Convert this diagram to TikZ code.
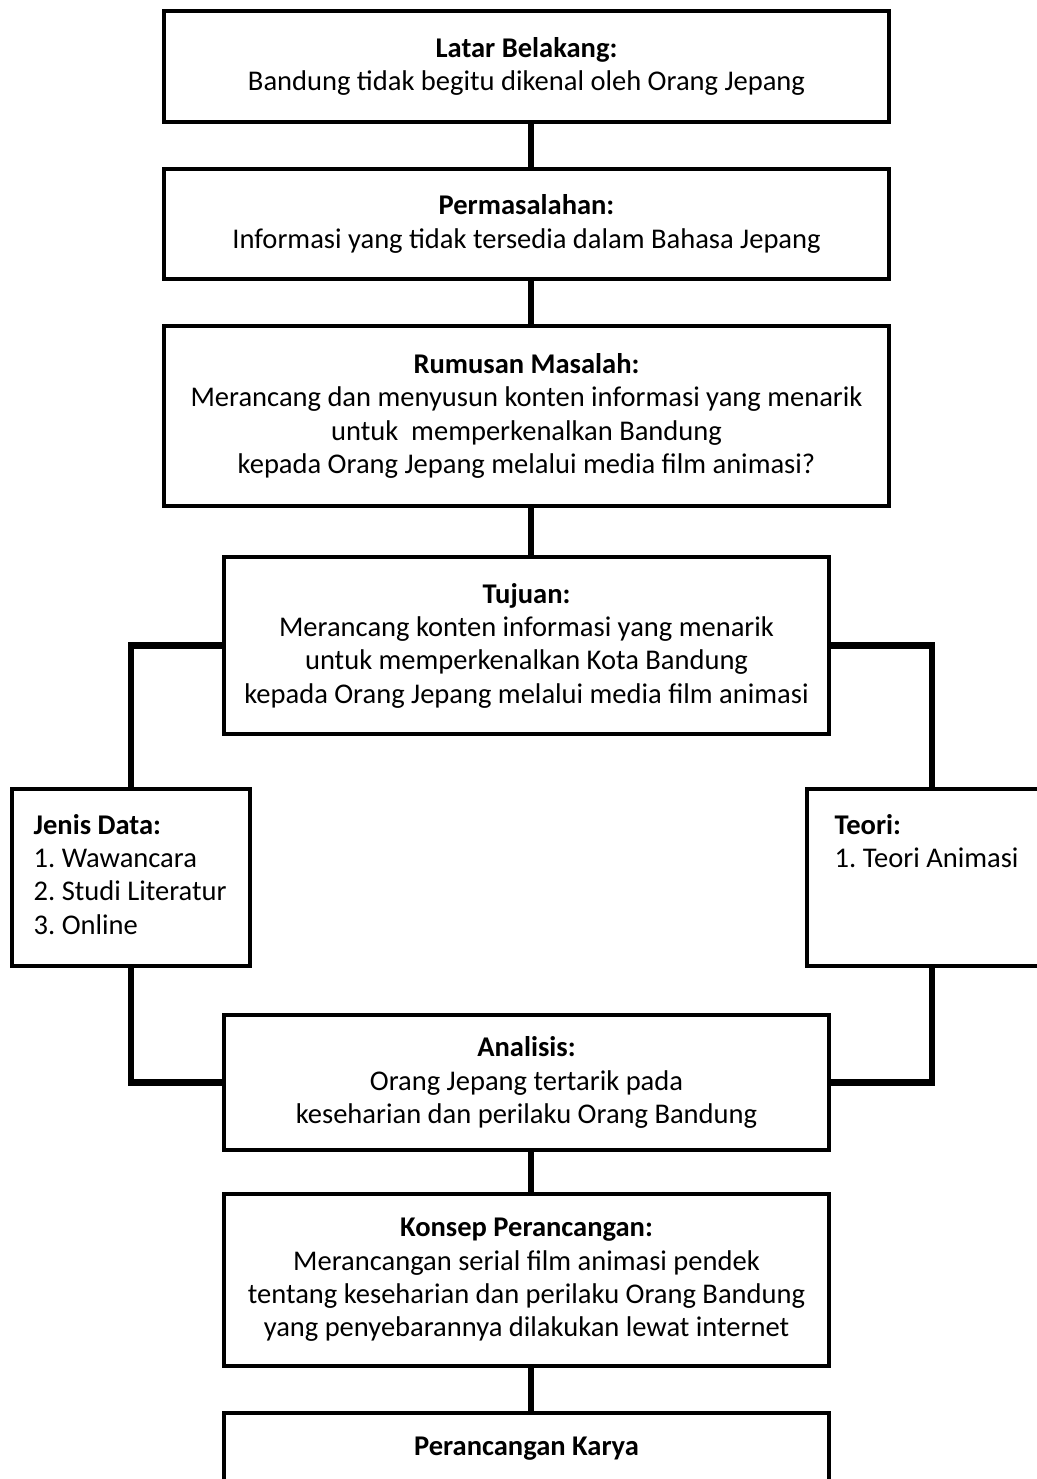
\documentclass[tikz,border=0pt]{standalone}
\usepackage{fontspec}
\setmainfont{Carlito}
\usepackage{tikz}
\tikzset{
  kotak/.style={draw, rectangle, line width=3.3pt, inner sep=0pt, align=center,
    font=\fontsize{21.4}{25}\selectfont\frenchspacing},
  sisi/.style={kotak, align=flush left, text width=146pt},
  garis/.style={line width=4.8pt},
}
\newcommand{\geser}{3.4pt}

\begin{document}
\begin{tikzpicture}[x=0.75pt, y=-0.75pt]
  \useasboundingbox (0,0) rectangle (1037,1479);
  \clip (0,0) rectangle (1037,1479);

  % alur utama
  \node[kotak, minimum width=543.4pt, minimum height=82.9pt] (latar) at (526.5,66.5)
    {\textbf{Latar Belakang:}\\Bandung tidak begitu dikenal oleh Orang Jepang};
  \node[kotak, minimum width=543.4pt, minimum height=82.1pt] (masalah) at (526.5,224)
    {\textbf{Permasalahan:}\\Informasi yang tidak tersedia dalam Bahasa Jepang};
  \node[kotak, minimum width=543.4pt, minimum height=134.6pt] (rumusan) at (526.5,416)
    {\textbf{Rumusan Masalah:}\\Merancang dan menyusun konten informasi yang menarik\\
     untuk\ \ memperkenalkan Bandung\\kepada Orang Jepang melalui media film animasi?};
  \node[kotak, minimum width=453.4pt, minimum height=132.4pt] (tujuan) at (526.5,645.5)
    {\textbf{Tujuan:}\\Merancang konten informasi yang menarik\\
     untuk memperkenalkan Kota Bandung\\kepada Orang Jepang melalui media film animasi};

  % cabang kiri dan kanan
  \node[sisi, minimum width=178.1pt, minimum height=132.4pt] (jenis) at (131,877.5)
    {\begin{tabular}{@{}l@{}}\textbf{Jenis Data:}\\1. Wawancara\\2. Studi Literatur\\3. Online\end{tabular}};
  \node[sisi, minimum width=187.1pt, minimum height=132.4pt] (teori) at (932,877.5)
    {\begin{tabular}{@{}l@{}}\textbf{Teori:}\\1. Teori Animasi\\ \\ \mbox{}\end{tabular}};

  \node[kotak, minimum width=453.4pt, minimum height=100.9pt] (analisis) at (526.5,1082.5)
    {\textbf{Analisis:}\\Orang Jepang tertarik pada\\keseharian dan perilaku Orang Bandung};
  \node[kotak, minimum width=453.4pt, minimum height=128.6pt] (konsep) at (526.5,1280)
    {\textbf{Konsep Perancangan:}\\Merancangan serial film animasi pendek\\
     tentang keseharian dan perilaku Orang Bandung\\yang penyebarannya dilakukan lewat internet};
  \node[kotak, minimum width=453.4pt, minimum height=53.6pt] (karya) at (526.5,1449)
    {\textbf{Perancangan Karya}};

  % penghubung
  \foreach \a/\b in {latar/masalah, masalah/rumusan, rumusan/tujuan, analisis/konsep, konsep/karya}
    \draw[garis] ([xshift=\geser]\a.south) -- ([xshift=\geser]\b.north);
  \draw[garis] (tujuan.west) -| (jenis.north);
  \draw[garis] (tujuan.east) -| (teori.north);
  \draw[garis] (jenis.south) |- (analisis.west);
  \draw[garis] (teori.south) |- (analisis.east);
\end{tikzpicture}
\end{document}
